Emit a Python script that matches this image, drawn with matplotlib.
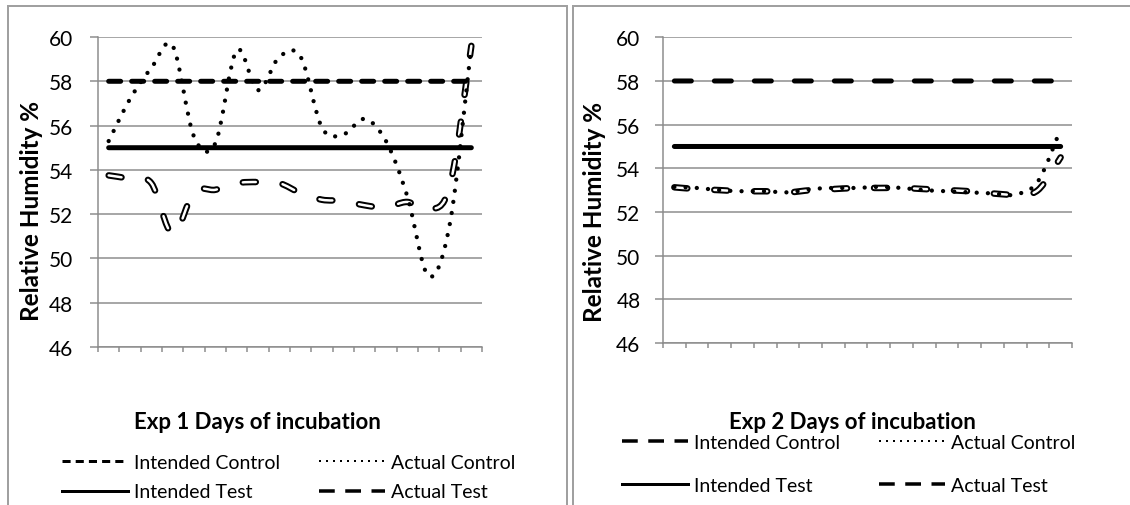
import numpy as np
import matplotlib
matplotlib.use("Agg")
import matplotlib.pyplot as plt
import matplotlib.patheffects as pe
from matplotlib.path import Path
from matplotlib.patches import PathPatch, Rectangle
from matplotlib.lines import Line2D

plt.rcParams['font.family'] = ['Lato', 'DejaVu Sans']

# 18 days of incubation per experiment
days = list(range(18))
y_ticks = [46, 48, 50, 52, 54, 56, 58, 60]

exp1_intended_control = [58, 58, 58, 58, 58, 58, 58, 58, 58, 58, 58, 58, 58, 58, 58, 58, 58, 58]
exp1_actual_control = [55.3, 57.2, 58.6, 59.6, 55.5, 55.2, 59.4, 57.6, 59.1, 59.1,
                       55.9, 55.6, 56.3, 55.3, 52.8, 49.2, 51.6, 59.6]
exp1_intended_test = [55, 55, 55, 55, 55, 55, 55, 55, 55, 55, 55, 55, 55, 55, 55, 55, 55, 55]
exp1_actual_test = [53.75, 53.6, 53.4, 51.1, 53.0, 53.1, 53.4, 53.45, 53.4, 52.95,
                    52.65, 52.6, 52.4, 52.3, 52.55, 52.2, 53.3, 59.6]

exp2_intended_control = [58, 58, 58, 58, 58, 58, 58, 58, 58, 58, 58, 58, 58, 58, 58, 58, 58, 58]
exp2_actual_control = [53.15, 53.1, 53.0, 52.95, 52.95, 52.9, 53.05, 53.1, 53.1, 53.15,
                       53.1, 53.0, 52.95, 52.9, 52.85, 52.8, 53.4, 55.8]
exp2_intended_test = [55, 55, 55, 55, 55, 55, 55, 55, 55, 55, 55, 55, 55, 55, 55, 55, 55, 55]
exp2_actual_test = [53.13, 53.05, 53.0, 52.95, 52.95, 52.9, 53.0, 53.05, 53.1, 53.1,
                    53.1, 53.05, 53.0, 52.95, 52.85, 52.8, 53.0, 54.5]

W, H = 1130, 506
PX = 72 / 100  # points per pixel at dpi 100


def smooth_path(xs, ys):
    # excel-like smoothed line: cubic bezier through every point
    pts = np.column_stack([xs, ys]).astype(float)
    n = len(pts)
    verts = [pts[0]]
    codes = [Path.MOVETO]
    for i in range(n - 1):
        p0 = pts[i - 1] if i > 0 else pts[i]
        p1 = pts[i]
        p2 = pts[i + 1]
        p3 = pts[i + 2] if i + 2 < n else pts[i + 1]
        verts += [p1 + (p2 - p0) / 6, p2 - (p3 - p1) / 6, p2]
        codes += [Path.CURVE4] * 3
    return Path(verts, codes)


def add_series(ax, ys, style):
    path = smooth_path(days, ys)
    if style == "outline":
        patch = PathPatch(path, facecolor="none", edgecolor="white", lw=2.5 * PX,
                          linestyle=(0, (5.2, 10.8)), capstyle="round", joinstyle="round",
                          path_effects=[pe.Stroke(linewidth=6.5 * PX, foreground="black"), pe.Normal()])
    elif style == "dotted":
        patch = PathPatch(path, facecolor="none", edgecolor="black", lw=4.3 * PX,
                          linestyle=(0, (0.01, 2.6)), capstyle="round", joinstyle="round")
    elif style == "solid":
        patch = PathPatch(path, facecolor="none", edgecolor="black", lw=5 * PX,
                          capstyle="round")
    elif style == "short":
        patch = PathPatch(path, facecolor="none", edgecolor="black", lw=5 * PX,
                          linestyle=(0, (2.4, 2.2)), capstyle="round")
    else:
        patch = PathPatch(path, facecolor="none", edgecolor="black", lw=5 * PX,
                          linestyle=(0, (3.4, 4.6)), capstyle="round")
    patch.set_clip_on(False)
    ax.add_patch(patch)


def setup_axes(ax, label_pad):
    ax.set_xlim(-0.5, 17.5)
    ax.set_ylim(46, 60)
    ax.set_yticks(y_ticks)
    ax.set_xticks(np.arange(-0.5, 18, 1))
    ax.set_xticklabels([])
    ax.grid(axis="y", color="#8c8c8c", lw=1.5 * PX)
    ax.set_axisbelow(True)
    for s in ["top", "right"]:
        ax.spines[s].set_visible(False)
    for s in ["left", "bottom"]:
        ax.spines[s].set_color("#8c8c8c")
        ax.spines[s].set_linewidth(1.5 * PX)
    ax.tick_params(axis="y", direction="out", length=8 * PX, width=1.5 * PX,
                   color="#8c8c8c", labelsize=15, pad=label_pad)
    ax.tick_params(axis="x", direction="out", length=5 * PX, width=1.5 * PX,
                   color="#8c8c8c")


fig = plt.figure(figsize=(W / 100, H / 100), dpi=100)

# panel borders
fig.add_artist(Rectangle((8 / W, -0.1), 559 / W, 1.1 - 7 / H, transform=fig.transFigure,
                         fill=False, edgecolor="#a0a0a0", lw=2 * PX))
fig.add_artist(Rectangle((573 / W, -0.1), 0.6, 1.1 - 7 / H, transform=fig.transFigure,
                         fill=False, edgecolor="#a0a0a0", lw=2 * PX))

ax1 = fig.add_axes([98 / W, 1 - 348 / H, 384 / W, 310 / H])
ax2 = fig.add_axes([663 / W, 1 - 344 / H, 409 / W, 305.7 / H])
setup_axes(ax1, 12)
setup_axes(ax2, 10.5)

add_series(ax1, exp1_actual_test, "outline")
add_series(ax1, exp1_intended_test, "solid")
add_series(ax1, exp1_intended_control, "short")
add_series(ax1, exp1_actual_control, "dotted")

add_series(ax2, exp2_intended_control, "long")
add_series(ax2, exp2_intended_test, "solid")
add_series(ax2, exp2_actual_test, "outline")
add_series(ax2, exp2_actual_control, "dotted")

fig.text(32 / W, 1 - 211 / H, "Relative Humidity %", rotation=90, ha="center", va="center",
         fontsize=17.5, fontweight="bold")
fig.text(595 / W, 1 - 212 / H, "Relative Humidity %", rotation=90, ha="center", va="center",
         fontsize=17.5, fontweight="bold")
fig.text(257 / W, 1 - 423 / H, "Exp 1 Days of incubation", ha="center", va="center",
         fontsize=16, fontweight="bold")
fig.text(852 / W, 1 - 423 / H, "Exp 2 Days of incubation", ha="center", va="center",
         fontsize=16, fontweight="bold")

# legend handles
short_h = Line2D([], [], color="black", lw=3 * PX, linestyle=(0, (2.7, 1.7)))
dot_h = Line2D([], [], color="black", lw=2 * PX, linestyle=(0, (1, 2.5)))
solid_h = Line2D([], [], color="black", lw=3 * PX)
long_h = Line2D([], [], color="black", lw=3.5 * PX, linestyle=(0, (4.5, 3)))

fig.legend([short_h, solid_h, dot_h, long_h],
           ["Intended Control", "Intended Test", "Actual Control", "Actual Test"],
           ncol=2, loc="center", bbox_to_anchor=(289 / W, 1 - 478 / H), frameon=False,
           fontsize=14, handlelength=3.4, handletextpad=0.3, columnspacing=2.0,
           labelspacing=0.66)
fig.legend([long_h, solid_h, dot_h, long_h],
           ["Intended Control", "Intended Test", "Actual Control", "Actual Test"],
           ncol=2, loc="center", bbox_to_anchor=(849 / W, 1 - 465 / H), frameon=False,
           fontsize=14, handlelength=3.4, handletextpad=0.3, columnspacing=2.0,
           labelspacing=1.35)

fig.savefig("out.png", dpi=100)
